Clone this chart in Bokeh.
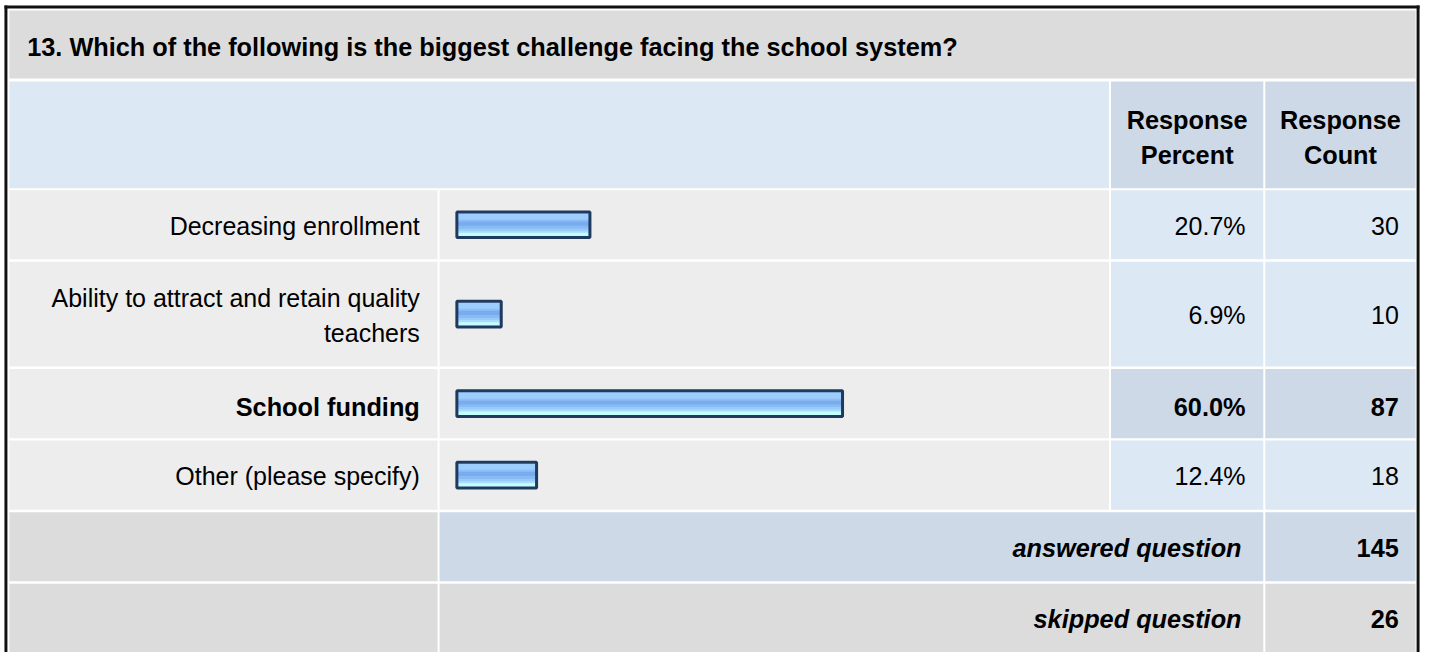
from bokeh.plotting import figure
from bokeh.models import Range1d
from bokeh.core.properties import value
from bokeh.embed import file_html
from bokeh.resources import INLINE

# ---------------- data ----------------
title = "13. Which of the following is the biggest challenge facing the school system?"
categories = [
    "Decreasing enrollment",
    "Ability to attract and retain quality\nteachers",
    "School funding",
    "Other (please specify)",
]
percents = [20.7, 6.9, 60.0, 12.4]
counts = [30, 10, 87, 18]
header_percent = "Response\nPercent"
header_count = "Response\nCount"
answered_label = "answered question"
answered_count = 145
skipped_label = "skipped question"
skipped_count = 26

# ---------------- layout / style ----------------
FONT = "Liberation Sans"
FS = {"normal": "25px", "bold": "25.3px", "bold italic": "25.3px"}
X0, X1 = 0, 1440
Y_TOP, Y_BOT = 0, 660
COLS = [(9, 442), (444, 1121), (1123, 1277), (1279, 1431)]
GAP = 2.5
LINE_H = 35.5
TEXT_OFF = 1.0

TITLE_BG = "#dcdcdc"
HEAD_LIGHT = "#dde8f5"
HEAD_DARK = "#cdd9e6"
ROW_BG = "#ededed"
VAL_BG = "#dde8f5"
VAL_HI = "#cdd9e6"
FOOT_BG = "#dcdcdc"
BAR_EDGE = "#1e3a5f"
BAR_X0 = 461.5       # position of 0 %
PX_PER_PCT = 6.5
STRIPES = [(0.00, 0.27, "#9dcdfd"), (0.27, 0.36, "#8cbff8"), (0.36, 0.55, "#78acee"),
           (0.55, 0.68, "#88bbf4"), (0.68, 0.77, "#98cafa"), (0.77, 0.86, "#aadbfd"),
           (0.86, 1.00, "#c0feff")]

p = figure(width=1424, height=652,
           x_range=Range1d(X0, X1), y_range=Range1d(Y_BOT, Y_TOP),
           output_backend="svg", toolbar_location=None, min_border=0,
           x_axis_type=None, y_axis_type=None, outline_line_color=None,
           background_fill_color="white", border_fill_color="white")
p.grid.visible = False
p.extra_x_ranges = {"pct": Range1d((X0 - BAR_X0) / PX_PER_PCT, (X1 - BAR_X0) / PX_PER_PCT)}

# ---------- cells ----------
cl, cr, ct, cb, cc = [], [], [], [], []
def cell(x0, x1, y0, y1, color):
    cl.append(x0); cr.append(x1); ct.append(y0); cb.append(y1); cc.append(color)

texts = {}  # (align, style) -> lists
def txt(x, y, s, align="right", style="normal"):
    d = texts.setdefault((align, style), ([], [], []))
    d[0].append(x); d[1].append(y); d[2].append(s)

def multiline(x, center, s, align, style):
    lines = s.split("\n")
    n = len(lines)
    for i, ln in enumerate(lines):
        txt(x, center + TEXT_OFF + (i - (n - 1) / 2) * LINE_H, ln, align, style)

# title row
t0, t1 = 10, 79
cell(COLS[0][0], COLS[3][1], t0, t1, TITLE_BG)
txt(27, 47.5, title, "left", "bold")

# header row
h0, h1 = 82, 190
cell(COLS[0][0], COLS[1][1], h0, h1, HEAD_LIGHT)
cell(COLS[2][0], COLS[2][1], h0, h1, HEAD_DARK)
cell(COLS[3][0], COLS[3][1], h0, h1, HEAD_DARK)
hc = (h0 + h1) / 2 + 1.5
multiline((COLS[2][0] + COLS[2][1]) / 2, hc, header_percent, "center", "bold")
multiline((COLS[3][0] + COLS[3][1]) / 2, hc, header_count, "center", "bold")

# data rows
top = 192
hi = percents.index(max(percents))
centers = []
for i, (cat, pc, cn) in enumerate(zip(categories, percents, counts)):
    nlines = len(cat.split("\n"))
    h = 70 if nlines == 1 else 106
    y0, y1 = top, top + h
    c = (y0 + y1) / 2
    centers.append(c)
    bold = (i == hi)
    cell(COLS[0][0], COLS[0][1], y0, y1, ROW_BG)
    cell(COLS[1][0], COLS[1][1], y0, y1, ROW_BG)
    cell(COLS[2][0], COLS[2][1], y0, y1, VAL_HI if bold else VAL_BG)
    cell(COLS[3][0], COLS[3][1], y0, y1, VAL_HI if bold else VAL_BG)
    st = "bold" if bold else "normal"
    off = 2.0 if bold else 0.0
    multiline(424, c + off, cat, "right", st)
    txt(1259, c + off + TEXT_OFF, f"{pc:.1f}%", "right", st)
    txt(1414, c + off + TEXT_OFF, str(cn), "right", st)
    top = y1 + GAP

# answered row
a0, a1 = top, top + 70
cell(COLS[0][0], COLS[0][1], a0, a1, FOOT_BG)
cell(COLS[1][0], COLS[2][1], a0, a1, HEAD_DARK)
cell(COLS[3][0], COLS[3][1], a0, a1, HEAD_DARK)
ac = (a0 + a1) / 2
txt(1255, ac + TEXT_OFF, answered_label, "right", "bold italic")
txt(1414, ac + TEXT_OFF, str(answered_count), "right", "bold")
top = a1 + GAP

# skipped row
s0, s1 = top, top + 72
cell(COLS[0][0], COLS[0][1], s0, s1, FOOT_BG)
cell(COLS[1][0], COLS[2][1], s0, s1, FOOT_BG)
cell(COLS[3][0], COLS[3][1], s0, s1, FOOT_BG)
sc = (s0 + 659) / 2
txt(1255, sc + TEXT_OFF, skipped_label, "right", "bold italic")
txt(1414, sc + TEXT_OFF, str(skipped_count), "right", "bold")

p.quad(left=cl, right=cr, top=ct, bottom=cb, fill_color=cc, line_color=None)

# outer frame
p.quad(left=[4, 4, 1432], right=[7, 1435, 1435], top=[5, 5, 5], bottom=[665, 8, 665],
       fill_color="#111111", line_color=None)

# ---------- bars ----------
INNER = 23
for f0, f1, col in STRIPES:
    ys = [c - INNER / 2 + (f0 + f1) / 2 * INNER for c in centers]
    p.hbar(y=ys, height=(f1 - f0) * INNER + 0.4, left=0, right=percents,
           fill_color=col, line_color=None, x_range_name="pct")
p.hbar(y=centers, height=INNER + 3, left=0, right=percents, fill_color=None,
       line_color=BAR_EDGE, line_width=3, x_range_name="pct")

# ---------- texts ----------
for (align, style), (xs, ys, ss) in texts.items():
    p.text(x=xs, y=ys, text=ss, text_align=align, text_baseline="alphabetic",
           text_font=value(FONT), text_font_size=value(FS[style]),
           text_font_style=value(style), text_color="#000000")

open("out.html", "w").write(file_html(p, INLINE))
